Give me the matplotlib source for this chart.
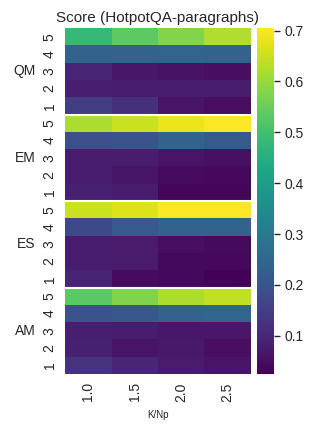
import numpy as np
import matplotlib
matplotlib.use("Agg")
import matplotlib.pyplot as plt
import seaborn as sns

sns.set_theme(style="white")
plt.rcParams['font.family'] = ['Liberation Sans', 'DejaVu Sans']

groups = ["QM", "EM", "ES", "AM"]
levels = ["5", "4", "3", "2", "1"]
x_labels = ["1.0", "1.5", "2.0", "2.5"]

QM = [[0.48, 0.535, 0.58, 0.623],
      [0.24, 0.24, 0.245, 0.24],
      [0.096, 0.066, 0.059, 0.049],
      [0.083, 0.080, 0.076, 0.076],
      [0.147, 0.120, 0.062, 0.048]]
EM = [[0.62, 0.65, 0.685, 0.70],
      [0.188, 0.20, 0.236, 0.215],
      [0.079, 0.078, 0.060, 0.052],
      [0.078, 0.060, 0.045, 0.039],
      [0.086, 0.078, 0.035, 0.035]]
ES = [[0.65, 0.67, 0.70, 0.705],
      [0.175, 0.215, 0.235, 0.235],
      [0.076, 0.075, 0.050, 0.042],
      [0.076, 0.074, 0.040, 0.040],
      [0.093, 0.045, 0.040, 0.030]]
AM = [[0.53, 0.575, 0.62, 0.64],
      [0.195, 0.21, 0.235, 0.25],
      [0.083, 0.080, 0.066, 0.065],
      [0.085, 0.062, 0.070, 0.050],
      [0.124, 0.095, 0.073, 0.060]]

data = np.array(QM + EM + ES + AM)
ylabels = levels * len(groups)

fig = plt.figure(figsize=(3.18, 4.33), dpi=100)
ax = fig.add_axes([65/318, 1 - 374/433, 186/318, 346/433])
cax = fig.add_axes([257/318, 1 - 374/433, 17/318, 346/433])

sns.heatmap(data, ax=ax, cbar_ax=cax, cmap="viridis", vmin=0.025, vmax=0.705,
            xticklabels=x_labels, yticklabels=ylabels)
for k in range(1, len(groups)):
    ax.axhline(k * 5, color="white", lw=1.5)
ax.set_title("Score (HotpotQA-paragraphs)", fontsize=11, pad=4)
ax.set_xlabel("K/Np", fontsize=7, labelpad=6)
ax.tick_params(axis='x', labelsize=10, rotation=90, length=0, pad=6)
ax.tick_params(axis='y', labelsize=10, rotation=90, length=0, pad=6)
for lab in ax.get_yticklabels():
    lab.set_va('center')
for i, g in enumerate(groups):
    ax.text(-0.16, 1 - (i * 5 + 2.5) / 20, g, transform=ax.transAxes,
            ha='right', va='center', fontsize=10)
cax.tick_params(labelsize=10, length=4, width=1)
cax.set_yticks([0.1, 0.2, 0.3, 0.4, 0.5, 0.6, 0.7])
fig.savefig("out.png", dpi=100)
